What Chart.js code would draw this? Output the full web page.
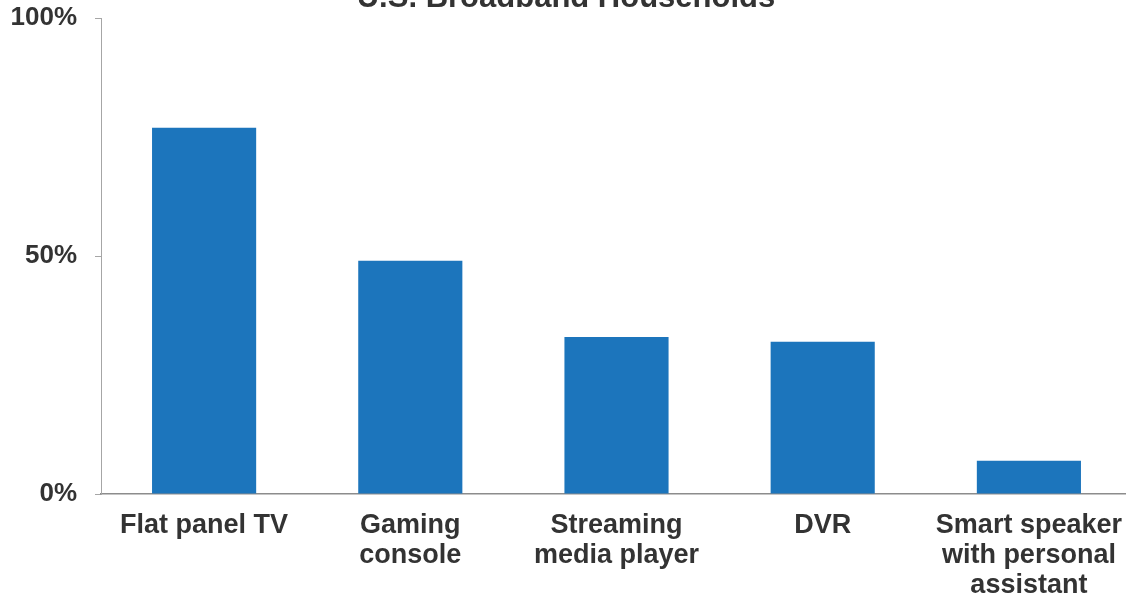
<!DOCTYPE html>
<html>
<head>
<meta charset="utf-8">
<script src="https://cdn.jsdelivr.net/npm/chart.js@4"></script>
<style>
    html, body { margin: 0; padding: 0; background: #fff; overflow: hidden; width: 1126px; height: 600px; }
    #wrap { position: absolute; left: 0; top: -40px; }
</style>
</head>
<body>
<div id="wrap"><canvas id="chart" width="1140" height="641"></canvas></div>
<script>
const chartTitle = "U.S. Broadband Households";
const devices = [
    "Flat panel TV",
    ["Gaming", "console"],
    ["Streaming", "media player"],
    "DVR",
    ["Smart speaker", "with personal", "assistant"]
];
const shares = [77, 49, 33, 32, 7];
const yTicks = [0, 50, 100];

const font = "'Liberation Sans', Arial, sans-serif";
const textColor = "#333";
const lineColor = "#a6a6a6";

const ctx = document.getElementById("chart").getContext("2d");

new Chart(ctx, {
    type: "bar",
    data: {
        labels: devices,
        datasets: [{
            data: shares,
            backgroundColor: "#1c75bc",
            barPercentage: 0.505,
            categoryPercentage: 1
        }]
    },
    options: {
        responsive: false,
        animation: false,
        devicePixelRatio: 1,
        layout: { padding: { left: 0, right: 8, top: 0, bottom: 0 } },
        plugins: {
            legend: { display: false },
            tooltip: { enabled: false },
            title: {
                display: true,
                text: chartTitle,
                color: textColor,
                font: { family: font, size: 31, weight: "bold", lineHeight: 1.2 },
                padding: { top: 20, bottom: 1 }
            }
        },
        scales: {
            x: {
                afterFit: scale => { scale.height = 107; },
                grid: { display: true, drawOnChartArea: false, drawTicks: false },
                border: { color: "#8c8c8c", width: 1.5 },
                ticks: {
                    color: textColor,
                    padding: 17,
                    maxRotation: 0,
                    autoSkip: false,
                    font: { family: font, size: 27, weight: "bold", lineHeight: "30px" }
                }
            },
            y: {
                min: 0,
                max: 100,
                afterBuildTicks: scale => {
                    scale.ticks = yTicks.map(v => ({ value: v }));
                },
                afterFit: scale => { scale.width = 101; },
                grid: { drawOnChartArea: false, tickLength: 6, color: lineColor },
                border: { color: lineColor },
                ticks: {
                    color: textColor,
                    padding: 18,
                    font: { family: font, size: 26, weight: "bold" },
                    callback: v => v + "%"
                }
            }
        }
    }
});
</script>
</body>
</html>
